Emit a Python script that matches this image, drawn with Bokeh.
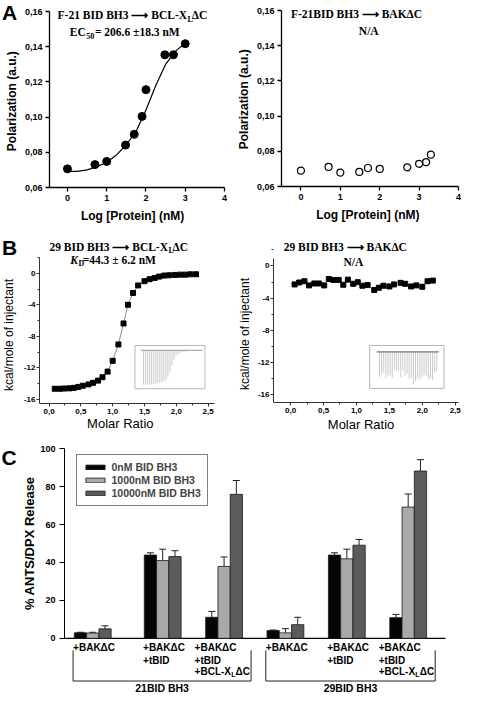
from math import pi
from bokeh.plotting import figure
from bokeh.layouts import column, row
from bokeh.models import (Range1d, FixedTicker, CustomJSTickFormatter, Label, Legend, LegendItem,
                          Whisker, TeeHead, ColumnDataSource)
from bokeh.core.properties import value
from bokeh.embed import file_html
from bokeh.resources import INLINE

# ====================== DATA ======================
# Panel A : fluorescence polarization
a1_log_protein = [0.0, 0.70, 1.00, 1.48, 1.70, 1.90, 2.00, 2.48, 2.70, 3.00]
a1_polarization = [0.0706, 0.0730, 0.0748, 0.0841, 0.0902, 0.1004, 0.1156, 0.1354, 0.1354, 0.1417]
a1_fit_log_protein = [0.0, 0.25, 0.5, 0.75, 1.0, 1.25, 1.5, 1.75, 2.0, 2.25, 2.5, 2.75, 3.0]
a1_fit_polarization = [0.0692, 0.0692, 0.0700, 0.0718, 0.0743, 0.0785, 0.0843, 0.0920,
                       0.1040, 0.1180, 0.1300, 0.1375, 0.1420]
a2_log_protein = [0.0, 0.70, 1.00, 1.48, 1.70, 2.00, 2.70, 3.00, 3.18, 3.30]
a2_polarization = [0.0690, 0.0711, 0.0679, 0.0683, 0.0705, 0.0700, 0.0709, 0.0729, 0.0738, 0.0781]

# Panel B : ITC
b1_molar_ratio = [0.09, 0.17, 0.24, 0.32, 0.39, 0.46, 0.53, 0.62, 0.69, 0.77, 0.84, 0.92, 1.00,
                  1.09, 1.17, 1.24, 1.32, 1.40, 1.50, 1.58, 1.66, 1.73, 1.81, 1.89, 1.98, 2.06,
                  2.14, 2.22, 2.31]
b1_kcal = [-14.63, -14.63, -14.60, -14.58, -14.52, -14.40, -14.25, -14.08, -13.88, -13.60, -13.17,
           -12.46, -11.09, -9.02, -6.36, -3.99, -2.49, -1.54, -1.00, -0.75, -0.59, -0.42, -0.29,
           -0.25, -0.21, -0.17, -0.17, -0.13, -0.13]
b2_molar_ratio = [0.06, 0.13, 0.21, 0.28, 0.36, 0.43, 0.51, 0.58, 0.65, 0.73, 0.80, 0.87, 0.95,
                  1.02, 1.09, 1.17, 1.27, 1.34, 1.41, 1.50, 1.57, 1.67, 1.74, 1.83, 1.91, 2.00,
                  2.08, 2.16]
b2_kcal = [-2.30, -2.06, -1.90, -2.42, -2.18, -2.18, -2.42, -1.62, -1.74, -1.74, -2.34, -1.70,
           -2.22, -2.02, -2.46, -2.38, -2.99, -2.71, -2.46, -2.55, -2.30, -2.10, -2.22, -2.55,
           -2.42, -2.59, -1.90, -1.82]

# Panel C : liposome release
peptide_sets = ["21BID BH3", "29BID BH3"]
condition_lines = [["+BAKΔC"], ["+BAKΔC", "+tBID"], ["+BAKΔC", "+tBID", "+BCL-XLΔC"]]
doses = ["0nM BID BH3", "1000nM BID BH3", "10000nM BID BH3"]
release_0nM = [2.9, 43.9, 11.1, 4.1, 43.9, 10.9]
error_0nM = [0.3, 1.2, 3.1, 0.3, 1.2, 1.7]
release_1000nM = [2.8, 41.0, 37.9, 2.9, 41.9, 69.2]
error_1000nM = [0.4, 6.0, 5.0, 2.2, 5.1, 6.9]
release_10000nM = [5.0, 43.1, 75.9, 7.2, 49.1, 88.2]
error_10000nM = [1.6, 3.1, 7.3, 3.9, 3.0, 6.0]

a_x_ticks = [0, 1, 2, 3, 4]
a_y_ticks = [0.06, 0.08, 0.10, 0.12, 0.14, 0.16]
b_x_ticks = [0.0, 0.5, 1.0, 1.5, 2.0, 2.5]
b_x_minor = [0.25, 0.75, 1.25, 1.75, 2.25]
b_y_ticks = [-16, -12, -8, -4, 0]
b_y_minor = [-14, -10, -6, -2, 2]
c_y_ticks = [0, 20, 40, 60, 80, 100]

# ====================== LAYOUT / STYLE ======================
SX, SY = 461 / 477, 694 / 710
SANS, SERIF = "Liberation Sans", "Liberation Serif"
TITLE = "11.5px"


class Panel:
    """Figure whose frame fills the canvas; axes are pinned where the
    reference plot area starts (l, r, t, b = plot-area margins in px)."""

    def __init__(self, W, H, l, r, t, b, xr, yr, xaxis=True):
        kx = (xr[1] - xr[0]) / (W - l - r)
        ky = (yr[1] - yr[0]) / (H - t - b)
        self.kx, self.ky = kx, ky
        self.fx = (xr[0] - l * kx, xr[1] + r * kx)
        self.fy = (yr[0] - b * ky, yr[1] + t * ky)
        p = figure(width=W, height=H, x_range=Range1d(*self.fx), y_range=Range1d(*self.fy),
                   min_border=0, output_backend="svg", toolbar_location=None,
                   x_axis_location="below" if xaxis else None)
        p.outline_line_color = None
        p.grid.visible = False
        p.background_fill_color = "white"
        p.border_fill_color = "white"
        if xaxis:
            p.xaxis[0].fixed_location = yr[0]
            p.xaxis[0].bounds = xr
        p.yaxis[0].fixed_location = xr[0]
        p.yaxis[0].bounds = yr
        self.p = p

    def at(self, rx, ry):
        return self.fx[0] + rx * SX * self.kx, self.fy[1] - ry * SY * self.ky

    def label(self, rx, ry, text, size, font=SANS, style="bold", align="center", angle=0.0):
        x, y = self.at(rx, ry)
        self.p.add_layout(Label(x=x, y=y, text=text, text_font=font, text_font_size=size,
                                text_font_style=style, text_align=align, text_baseline="middle",
                                angle=angle, text_color="black"))


def style_axis(ax, ticks, minor, fmt, tick_size, tick_out, minor_out, major_standoff, lw, color):
    ax.ticker = FixedTicker(ticks=ticks, minor_ticks=minor)
    ax.formatter = CustomJSTickFormatter(code=fmt)
    ax.major_label_text_font = SANS
    ax.major_label_text_font_style = "bold"
    ax.major_label_text_font_size = tick_size
    ax.major_label_text_color = "black"
    ax.major_label_standoff = major_standoff
    ax.major_tick_in = 0
    ax.major_tick_out = tick_out
    ax.minor_tick_in = 0
    ax.minor_tick_out = minor_out
    ax.axis_line_width = lw
    ax.major_tick_line_width = lw
    ax.minor_tick_line_width = lw
    ax.axis_line_color = color
    ax.major_tick_line_color = color
    ax.minor_tick_line_color = color


FMT2 = "return tick.toFixed(2).replace('.', ',')"
FMT1 = "return tick.toFixed(1).replace('.', ',')"
FMT0 = "return tick.toFixed(0)"

# ---------------- Panel A ----------------
A1 = Panel(232, 225, 49, 8, 11, 38, (-0.457, 4.0), (0.06, 0.16))
A2 = Panel(229, 225, 49, 3, 10, 39, (-0.495, 4.0), (0.06, 0.16))
for P in (A1, A2):
    style_axis(P.p.xaxis[0], a_x_ticks, [], FMT0, "9px", 4, 0, 3, 1.3, "black")
    style_axis(P.p.yaxis[0], a_y_ticks, [], FMT2, "9px", 4, 0, 3, 1.3, "black")

A1.p.line(a1_fit_log_protein, a1_fit_polarization, line_color="black", line_width=1.2)
A1.p.scatter(a1_log_protein, a1_polarization, marker="circle", size=8,
             fill_color="black", line_color="black")
A2.p.scatter(a2_log_protein, a2_polarization, marker="circle", size=7,
             fill_color="white", line_color="black", line_width=1.2)

A1.label(9.5, 12.3, "A", "21px")
A1.label(12, 103, "Polarization (a.u.)", "12px", angle=pi / 2)
A1.label(136.7, 220.7, "Log [Protein] (nM)", "12px")
A1.label(193, 15, "F-21 BID BH3 \u27f6 BCL-X", TITLE, SERIF, "bold", "right")
A1.label(193.5, 19, "L", "8px", SERIF, "bold", "left")
A1.label(198, 15, "\u0394C", TITLE, SERIF, "bold", "left")
A1.label(88.3, 32.3, "EC", TITLE, SERIF, "bold", "right")
A1.label(88.6, 36, "50", "8px", SERIF, "bold", "left")
A1.label(97.7, 32.3, "= 206.6 \u00b118.3 nM", TITLE, SERIF, "bold", "left")

A2.label(12, 101, "Polarization (a.u.)", "12px", angle=pi / 2)
A2.label(140, 219, "Log [Protein] (nM)", "12px")
A2.label(128.3, 14, "F-21BID BH3 \u27f6 BAK\u0394C", TITLE, SERIF, "bold", "center")
A2.label(141, 31.7, "N/A", TITLE, SERIF, "bold", "center")

# ---------------- Panel B ----------------
B1 = Panel(232, 220, 39, 18, 32, 42, (-0.15, 2.6), (-16.5, 2.0))
B2 = Panel(229, 220, 41, 3, 33, 43, (-0.26, 2.55), (-17.0, 0.93))
for P in (B1, B2):
    style_axis(P.p.xaxis[0], b_x_ticks, b_x_minor, FMT1, "8px", 3, 2, 2, 1, "#333333")
    style_axis(P.p.yaxis[0], b_y_ticks, b_y_minor, FMT0, "8px", 3, 2, 1, 1, "#333333")

# insets (raw thermograms) – box / spike placement in each panel's data units
B1_INSET = (1.35, 2.45, -14.63, -9.15)
B1_SPIKES = (1.485, 2.38, -9.77, 0.298)
B2_INSET = (1.20, 2.33, -15.24, -9.9)
B2_SPIKES = (1.35, 2.22, -10.7, 1.35)


def inset(P, box, spikes, heats, base_color):
    l, r, b, t = box
    P.p.quad(left=[l], right=[r], bottom=[b], top=[t], fill_color="white",
             line_color="#b8b8b8", line_width=1)
    x0, x1, base, scale = spikes
    n = len(heats)
    xs = [x0 + i * (x1 - x0) / (n - 1) for i in range(n)]
    P.p.segment(x0=xs, y0=[base] * n, x1=xs, y1=[base + h * scale for h in heats],
                line_color="#bdbdbd", line_width=0.8)
    P.p.line([x0 - 0.04, x1 + 0.03], [base, base], line_color=base_color, line_width=1.2)


inset(B1, B1_INSET, B1_SPIKES, b1_kcal, "#aaaaaa")
inset(B2, B2_INSET, B2_SPIKES, b2_kcal, "#777777")

B1.p.line(b1_molar_ratio, b1_kcal, line_color="#8c8c8c", line_width=1)
B1.p.scatter(b1_molar_ratio, b1_kcal, marker="square", size=5, fill_color="black", line_color="black")
B2.p.scatter(b2_molar_ratio, b2_kcal, marker="square", size=5, fill_color="black", line_color="black")

B1.label(9.5, 22.5, "B", "21px")
B1.label(8.5, 112, "kcal/mole of injectant", "12px", SANS, "normal", angle=pi / 2)
B1.label(124, 202.7, "Molar Ratio", "13px", SANS, "normal")
B1.label(173.3, 21.7, "29 BID BH3 \u27f6 BCL-X", TITLE, SERIF, "bold", "right")
B1.label(173.8, 25.5, "L", "8px", SERIF, "bold", "left")
B1.label(178, 21.7, "\u0394C", TITLE, SERIF, "bold", "left")
B1.label(80, 35, "K", TITLE, SERIF, "bold italic", "right")
B1.label(80.6, 38.5, "D", "8px", SERIF, "bold", "left")
B1.label(85, 35, "=44.3 \u00b1 6.2 nM", TITLE, SERIF, "bold", "left")

B2.label(13.3, 111, "kcal/mole of injectant", "12px", SANS, "normal", angle=pi / 2)
B2.label(133, 203.3, "Molar Ratio", "13px", SANS, "normal")
B2.label(116.7, 21.7, "29 BID BH3 \u27f6 BAK\u0394C", TITLE, SERIF, "bold", "center")
B2.label(125, 37.3, "N/A", TITLE, SERIF, "bold", "center")

# ---------------- Panel C ----------------
C = Panel(461, 249, 64, 16, 2, 0, (0, 31.04), (-29.6, 100.6), xaxis=False)
pc = C.p
style_axis(pc.yaxis[0], c_y_ticks, [], FMT0, "9px", 5, 0, 4, 1, "black")
pc.yaxis[0].bounds = (0, 100)
pc.yaxis[0].fixed_location = 0
pc.segment(x0=[0], y0=[0], x1=[31.04], y1=[0], line_color="black", line_width=1.2)

GROUP_X = [2.3, 8.0, 13.0, 18.0, 23.0, 28.0]   # group centres (bar-width units)
BAR_W = 1.0
colors = ["#050505", "#a9a9a9", "#5b5b5b"]
series = [(release_0nM, error_0nM), (release_1000nM, error_1000nM), (release_10000nM, error_10000nM)]
legend_items = []
for k, (vals, errs) in enumerate(series):
    xs = [gx + (k - 1) * BAR_W for gx in GROUP_X]
    src = ColumnDataSource(dict(x=xs, top=vals, upper=[v + e for v, e in zip(vals, errs)]))
    r = pc.vbar(x="x", top="top", bottom=0, width=BAR_W, source=src,
                fill_color=colors[k], line_color="#1a1a1a", line_width=0.8)
    pc.add_layout(Whisker(base="x", lower="top", upper="upper", source=src, dimension="height",
                          line_color="#222222", line_width=1, lower_head=None,
                          upper_head=TeeHead(size=7, line_color="#222222", line_width=1)))
    legend_items.append(LegendItem(label=doses[k], renderers=[r]))

legend = Legend(items=legend_items, location=(75.5, 188), glyph_width=24, glyph_height=6,
                label_height=12, spacing=1, padding=6, label_standoff=5, margin=0,
                label_text_font=SANS, label_text_font_style="bold", label_text_font_size="10.5px",
                border_line_color="black", border_line_width=1, background_fill_color="white",
                background_fill_alpha=1)
pc.add_layout(legend)

# category labels below the axis
ROW_Y = [-4.74, -11.7, -17.63]
LBL_HALF, LBL_HALF3 = 1.6, 2.4
LINE3_W = 4.6
BR_TOP, BR_BOT, SET_Y = -6.3, -22.5, -26.3
tx, ty, tt, tdx, tdy, tsz = [], [], [], [], [], []
label_left = []
for g, gx in enumerate(GROUP_X):
    lines = condition_lines[g % 3]
    left = gx - (LBL_HALF3 if len(lines) == 3 else LBL_HALF)
    label_left.append(left)
    for i, line in enumerate(lines):
        if line.startswith("+BCL-X"):
            pieces = [("+BCL-X", 0, 0, "10px"), ("L", 36.6, 3, "7px"), ("\u0394C", 41.0, 0, "10px")]
        else:
            pieces = [(line, 0, 0, "10px")]
        for txt, dx, dy, sz in pieces:
            tx.append(left); ty.append(ROW_Y[i]); tt.append(txt)
            tdx.append(dx); tdy.append(dy); tsz.append(sz)
pc.text(x="x", y="y", text="t", x_offset="dx", y_offset="dy", text_font_size="sz",
        source=ColumnDataSource(dict(x=tx, y=ty, t=tt, dx=tdx, dy=tdy, sz=tsz)),
        text_font=value(SANS), text_font_style="bold", text_align="left",
        text_baseline="middle", text_color="black")

bx, by, sx_, sy_ = [], [], [], []
for s, name in enumerate(peptide_sets):
    left = label_left[3 * s]
    right = label_left[3 * s + 2] + LINE3_W
    bx.append([left, left, right, right])
    by.append([BR_TOP, BR_BOT, BR_BOT, BR_TOP])
    sx_.append((left + right) / 2)
    sy_.append(SET_Y)
pc.multi_line(xs=bx, ys=by, line_color="#222222", line_width=1)
pc.text(x=sx_, y=sy_, text=peptide_sets, text_font=value(SANS), text_font_style="bold",
        text_font_size="10.5px", text_align="center", text_baseline="middle", text_color="black")

C.label(9, 12.3, "C", "21px")
C.label(30, 100, "% ANTS/DPX Release", "13px", SANS, "bold", "center", angle=pi / 2)

layout = column(row(A1.p, A2.p), row(B1.p, B2.p), C.p)
open("out.html", "w").write(file_html(layout, INLINE, title="BID BH3 binding"))
